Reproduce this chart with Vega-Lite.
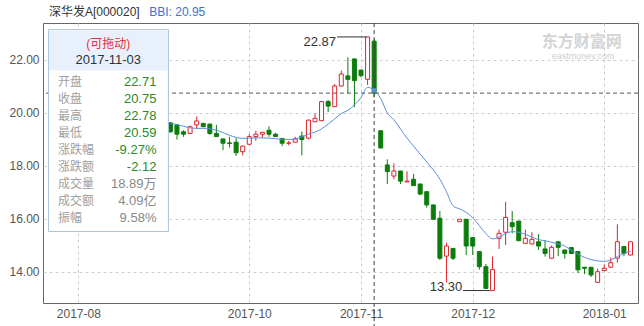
{
  "$schema": "https://vega.github.io/schema/vega-lite/v6.json",
  "width": 595,
  "height": 280,
  "autosize": {"type": "none"},
  "padding": {"left": 43, "top": 23, "right": 6, "bottom": 23},
  "background": "white",
  "config": {
    "view": {"stroke": "#666666", "strokeWidth": 1},
    "font": "Liberation Sans",
    "text": {"font": "Liberation Sans, Noto Sans CJK SC"}
  },
  "datasets": {
    "candles": [
      {"i": 0, "o": 19.63, "h": 19.65, "l": 19.25, "c": 19.29, "d": "down"},
      {"i": 1, "o": 19.55, "h": 19.58, "l": 19.0, "c": 19.2, "d": "down"},
      {"i": 2, "o": 19.29, "h": 19.35, "l": 19.1, "c": 19.2, "d": "down"},
      {"i": 3, "o": 19.23, "h": 19.52, "l": 19.22, "c": 19.48, "d": "up"},
      {"i": 4, "o": 19.55, "h": 19.87, "l": 19.4, "c": 19.7, "d": "up"},
      {"i": 5, "o": 19.61, "h": 19.62, "l": 19.47, "c": 19.48, "d": "down"},
      {"i": 6, "o": 19.58, "h": 19.6, "l": 19.17, "c": 19.23, "d": "down"},
      {"i": 7, "o": 19.23, "h": 19.55, "l": 19.1, "c": 19.11, "d": "down"},
      {"i": 8, "o": 19.02, "h": 19.03, "l": 18.6, "c": 18.86, "d": "down"},
      {"i": 9, "o": 18.87, "h": 19.1, "l": 18.7, "c": 18.85, "d": "down"},
      {"i": 10, "o": 18.9, "h": 19.05, "l": 18.38, "c": 18.5, "d": "down"},
      {"i": 11, "o": 18.54, "h": 18.76, "l": 18.4, "c": 18.75, "d": "up"},
      {"i": 12, "o": 18.82, "h": 19.2, "l": 18.81, "c": 19.11, "d": "up"},
      {"i": 13, "o": 19.11, "h": 19.33, "l": 18.95, "c": 19.2, "d": "up"},
      {"i": 14, "o": 19.2, "h": 19.28, "l": 19.05, "c": 19.27, "d": "up"},
      {"i": 15, "o": 19.35, "h": 19.5, "l": 19.1, "c": 19.2, "d": "down"},
      {"i": 16, "o": 19.2, "h": 19.25, "l": 19.1, "c": 19.11, "d": "down"},
      {"i": 17, "o": 19.04, "h": 19.05, "l": 18.75, "c": 18.86, "d": "down"},
      {"i": 18, "o": 18.86, "h": 18.95, "l": 18.78, "c": 18.87, "d": "up"},
      {"i": 19, "o": 18.9, "h": 19.1, "l": 18.89, "c": 19.02, "d": "up"},
      {"i": 20, "o": 19.13, "h": 19.3, "l": 18.4, "c": 19.0, "d": "down"},
      {"i": 21, "o": 19.05, "h": 19.75, "l": 19.0, "c": 19.73, "d": "up"},
      {"i": 22, "o": 19.67, "h": 19.98, "l": 19.66, "c": 19.8, "d": "up"},
      {"i": 23, "o": 19.71, "h": 20.45, "l": 19.7, "c": 20.43, "d": "up"},
      {"i": 24, "o": 20.43, "h": 20.49, "l": 20.04, "c": 20.26, "d": "down"},
      {"i": 25, "o": 20.24, "h": 21.09, "l": 20.23, "c": 21.02, "d": "up"},
      {"i": 26, "o": 21.02, "h": 21.6, "l": 21.0, "c": 21.47, "d": "up"},
      {"i": 27, "o": 21.4, "h": 22.1, "l": 20.74, "c": 21.27, "d": "down"},
      {"i": 28, "o": 22.04, "h": 22.05, "l": 20.22, "c": 21.22, "d": "down"},
      {"i": 29, "o": 21.62, "h": 21.63, "l": 21.35, "c": 21.41, "d": "down"},
      {"i": 30, "o": 21.27, "h": 22.87, "l": 21.06, "c": 22.87, "d": "up"},
      {"i": 31, "o": 22.71, "h": 22.78, "l": 20.59, "c": 20.75, "d": "down"},
      {"i": 32, "o": 19.33, "h": 19.33, "l": 18.68, "c": 18.68, "d": "down"},
      {"i": 33, "o": 18.04, "h": 18.25, "l": 17.32, "c": 17.79, "d": "down"},
      {"i": 34, "o": 17.62, "h": 18.1, "l": 17.5, "c": 17.81, "d": "up"},
      {"i": 35, "o": 17.81, "h": 17.82, "l": 17.32, "c": 17.43, "d": "down"},
      {"i": 36, "o": 17.4, "h": 17.8, "l": 17.39, "c": 17.43, "d": "up"},
      {"i": 37, "o": 17.5, "h": 17.7, "l": 17.25, "c": 17.26, "d": "down"},
      {"i": 38, "o": 17.32, "h": 17.33, "l": 16.9, "c": 16.94, "d": "down"},
      {"i": 39, "o": 17.03, "h": 17.04, "l": 16.43, "c": 16.53, "d": "down"},
      {"i": 40, "o": 16.53, "h": 16.54, "l": 15.98, "c": 15.99, "d": "down"},
      {"i": 41, "o": 16.03, "h": 16.3, "l": 14.45, "c": 14.52, "d": "down"},
      {"i": 42, "o": 14.6, "h": 15.1, "l": 13.61, "c": 14.98, "d": "up"},
      {"i": 43, "o": 14.89, "h": 14.9, "l": 14.45, "c": 14.52, "d": "down"},
      {"i": 44, "o": 15.9, "h": 16.0, "l": 15.89, "c": 15.99, "d": "up"},
      {"i": 45, "o": 15.99, "h": 16.0, "l": 14.64, "c": 14.98, "d": "down"},
      {"i": 46, "o": 15.3, "h": 15.31, "l": 14.64, "c": 14.98, "d": "down"},
      {"i": 47, "o": 14.77, "h": 14.78, "l": 14.09, "c": 14.2, "d": "down"},
      {"i": 48, "o": 14.2, "h": 14.3, "l": 13.37, "c": 13.38, "d": "down"},
      {"i": 49, "o": 13.3, "h": 14.58, "l": 13.3, "c": 14.09, "d": "up"},
      {"i": 50, "o": 15.27, "h": 15.6, "l": 14.87, "c": 15.46, "d": "up"},
      {"i": 51, "o": 15.5, "h": 16.65, "l": 15.02, "c": 16.06, "d": "up"},
      {"i": 52, "o": 15.86, "h": 16.3, "l": 15.46, "c": 15.71, "d": "down"},
      {"i": 53, "o": 15.92, "h": 15.93, "l": 15.17, "c": 15.18, "d": "down"},
      {"i": 54, "o": 15.08, "h": 15.6, "l": 15.07, "c": 15.27, "d": "up"},
      {"i": 55, "o": 15.06, "h": 15.5, "l": 15.05, "c": 15.23, "d": "up"},
      {"i": 56, "o": 15.14, "h": 15.43, "l": 14.83, "c": 14.98, "d": "down"},
      {"i": 57, "o": 14.87, "h": 15.2, "l": 14.58, "c": 14.7, "d": "down"},
      {"i": 58, "o": 14.52, "h": 15.0, "l": 14.51, "c": 14.93, "d": "up"},
      {"i": 59, "o": 15.14, "h": 15.15, "l": 14.6, "c": 14.93, "d": "down"},
      {"i": 60, "o": 14.83, "h": 14.84, "l": 14.5, "c": 14.7, "d": "down"},
      {"i": 61, "o": 14.92, "h": 14.93, "l": 14.69, "c": 14.7, "d": "down"},
      {"i": 62, "o": 14.77, "h": 14.78, "l": 13.96, "c": 14.08, "d": "down"},
      {"i": 63, "o": 14.18, "h": 14.19, "l": 13.92, "c": 14.14, "d": "down"},
      {"i": 64, "o": 14.18, "h": 14.19, "l": 13.81, "c": 13.89, "d": "down"},
      {"i": 65, "o": 13.61, "h": 14.13, "l": 13.58, "c": 14.01, "d": "up"},
      {"i": 66, "o": 14.05, "h": 14.28, "l": 14.04, "c": 14.14, "d": "up"},
      {"i": 67, "o": 14.18, "h": 14.55, "l": 14.17, "c": 14.35, "d": "up"},
      {"i": 68, "o": 14.52, "h": 15.8, "l": 14.35, "c": 15.14, "d": "up"},
      {"i": 69, "o": 14.96, "h": 14.97, "l": 14.6, "c": 14.7, "d": "down"},
      {"i": 70, "o": 14.64, "h": 15.15, "l": 14.63, "c": 15.14, "d": "up"}
    ],
    "bbi": [
      {"i": 0, "v": 19.62}, {"i": 1, "v": 19.56}, {"i": 2, "v": 19.5}, {"i": 3, "v": 19.44},
      {"i": 4, "v": 19.42}, {"i": 5, "v": 19.42}, {"i": 6, "v": 19.4}, {"i": 7, "v": 19.35},
      {"i": 8, "v": 19.26}, {"i": 9, "v": 19.16}, {"i": 10, "v": 19.08}, {"i": 11, "v": 19.04},
      {"i": 12, "v": 19.05}, {"i": 13, "v": 19.06}, {"i": 14, "v": 19.06}, {"i": 15, "v": 19.05},
      {"i": 16, "v": 19.03}, {"i": 17, "v": 19.01}, {"i": 18, "v": 19.0}, {"i": 19, "v": 19.02},
      {"i": 20, "v": 19.1}, {"i": 21, "v": 19.2}, {"i": 22, "v": 19.28}, {"i": 23, "v": 19.4},
      {"i": 24, "v": 19.58}, {"i": 25, "v": 19.78}, {"i": 26, "v": 19.98}, {"i": 27, "v": 20.1},
      {"i": 28, "v": 20.3}, {"i": 29, "v": 20.58}, {"i": 30, "v": 20.97}, {"i": 31, "v": 20.85},
      {"i": 32, "v": 20.55}, {"i": 33, "v": 20.0}, {"i": 34, "v": 19.75}, {"i": 35, "v": 19.4},
      {"i": 36, "v": 19.05}, {"i": 37, "v": 18.75}, {"i": 38, "v": 18.45}, {"i": 39, "v": 18.15},
      {"i": 40, "v": 17.85}, {"i": 41, "v": 17.5}, {"i": 42, "v": 17.03}, {"i": 43, "v": 16.5},
      {"i": 44, "v": 16.38}, {"i": 45, "v": 16.25}, {"i": 46, "v": 16.05}, {"i": 47, "v": 15.75},
      {"i": 48, "v": 15.45}, {"i": 49, "v": 15.25}, {"i": 50, "v": 15.32}, {"i": 51, "v": 15.45},
      {"i": 52, "v": 15.52}, {"i": 53, "v": 15.5}, {"i": 54, "v": 15.42}, {"i": 55, "v": 15.32},
      {"i": 56, "v": 15.22}, {"i": 57, "v": 15.18}, {"i": 58, "v": 15.12}, {"i": 59, "v": 15.06},
      {"i": 60, "v": 14.98}, {"i": 61, "v": 14.82}, {"i": 62, "v": 14.68}, {"i": 63, "v": 14.55},
      {"i": 64, "v": 14.47}, {"i": 65, "v": 14.42}, {"i": 66, "v": 14.4}, {"i": 67, "v": 14.45},
      {"i": 68, "v": 14.58}, {"i": 69, "v": 14.7}, {"i": 70, "v": 14.78}
    ],
    "info": [
      {"row": 0, "label": "开盘", "value": "22.71", "kind": "g"},
      {"row": 1, "label": "收盘", "value": "20.75", "kind": "g"},
      {"row": 2, "label": "最高", "value": "22.78", "kind": "g"},
      {"row": 3, "label": "最低", "value": "20.59", "kind": "g"},
      {"row": 4, "label": "涨跌幅", "value": "-9.27%", "kind": "g"},
      {"row": 5, "label": "涨跌额", "value": "-2.12", "kind": "g"},
      {"row": 6, "label": "成交量", "value": "18.89万", "kind": "n"},
      {"row": 7, "label": "成交额", "value": "4.09亿", "kind": "n"},
      {"row": 8, "label": "振幅", "value": "9.58%", "kind": "n"}
    ]
  },
  "layer": [
    {
      "layer": [
        {
          "data": {"name": "candles"},
          "mark": {"type": "rule", "strokeWidth": 1},
          "encoding": {
            "x": {
              "field": "i", "type": "quantitative", "title": null,
              "scale": {"domain": [-18.62, 70.38], "nice": false, "zero": false},
              "axis": {
                "values": [-14, 12, 29, 46, 66],
                "labelExpr": "datum.value == -14 ? '2017-08' : datum.value == 12 ? '2017-10' : datum.value == 29 ? '2017-11' : datum.value == 46 ? '2017-12' : '2018-01'",
                "grid": true, "gridColor": "#cccccc", "gridDash": [3, 3], "gridWidth": 1,
                "ticks": false, "domain": false, "labelPadding": 5,
                "labelColor": "#555555", "labelFontSize": 12, "labelFont": "Liberation Sans",
                "labelFlush": false, "labelOverlap": false
              }
            },
            "y": {
              "field": "l", "type": "quantitative", "title": null,
              "scale": {"domain": [12.83, 23.396], "nice": false, "zero": false},
              "axis": {
                "values": [14, 16, 18, 20, 22], "format": ".2f",
                "grid": true, "gridColor": "#cccccc", "gridDash": [3, 3], "gridWidth": 1,
                "ticks": false, "domain": false, "labelPadding": 4,
                "labelColor": "#555555", "labelFontSize": 12, "labelFont": "Liberation Sans"
              }
            },
            "y2": {"field": "h"},
            "stroke": {
              "field": "d", "type": "nominal", "legend": null,
              "scale": {"domain": ["up", "down"], "range": ["#e0232e", "#0c7d0c"]}
            }
          }
        },
        {
          "data": {"name": "candles"},
          "mark": {"type": "bar", "size": 4, "strokeWidth": 1},
          "encoding": {
            "x": {"field": "i", "type": "quantitative", "title": null},
            "y": {"field": "o", "type": "quantitative", "title": null},
            "y2": {"field": "c"},
            "stroke": {"field": "d", "type": "nominal", "legend": null},
            "fill": {
              "field": "d", "type": "nominal", "legend": null,
              "scale": {"domain": ["up", "down"], "range": ["#ffffff", "#0c7d0c"]}
            }
          }
        },
        {
          "data": {"name": "bbi"},
          "mark": {"type": "line", "color": "#5b8fe0", "strokeWidth": 1, "interpolate": "monotone"},
          "encoding": {
            "x": {"field": "i", "type": "quantitative", "title": null},
            "y": {"field": "v", "type": "quantitative", "title": null}
          }
        },
        {
          "data": {"values": [{}]},
          "mark": {"type": "rule", "color": "#555555", "strokeWidth": 1, "strokeDash": [4, 3]},
          "encoding": {
            "y": {"datum": 20.75, "type": "quantitative", "title": null}
          }
        },
        {
          "data": {"values": [{}]},
          "mark": {"type": "rule", "color": "#444444", "strokeWidth": 1, "strokeDash": [4, 3], "clip": false},
          "encoding": {
            "x": {"datum": 31, "type": "quantitative", "title": null},
            "y": {"datum": 23.396, "type": "quantitative", "title": null},
            "y2": {"datum": 11.95}
          }
        },
        {
          "data": {"values": [{}]},
          "mark": {"type": "point", "filled": true, "size": 22, "color": "#5b8fe0", "opacity": 1},
          "encoding": {
            "x": {"datum": 31, "type": "quantitative", "title": null},
            "y": {"datum": 20.85, "type": "quantitative", "title": null}
          }
        },
        {
          "data": {"values": [{}]},
          "mark": {"type": "rule", "color": "#333333", "strokeWidth": 1},
          "encoding": {
            "x": {"datum": 25.36, "type": "quantitative", "title": null},
            "x2": {"datum": 29.85},
            "y": {"datum": 22.87, "type": "quantitative", "title": null}
          }
        },
        {
          "data": {"values": [{}]},
          "mark": {"type": "text", "text": "22.87", "align": "right", "baseline": "top", "fontSize": 13, "color": "#333333", "dx": -1, "dy": -1},
          "encoding": {
            "x": {"datum": 25.36, "type": "quantitative", "title": null},
            "y": {"datum": 22.87, "type": "quantitative", "title": null}
          }
        },
        {
          "data": {"values": [{}]},
          "mark": {"type": "rule", "color": "#333333", "strokeWidth": 1},
          "encoding": {
            "x": {"datum": 44.5, "type": "quantitative", "title": null},
            "x2": {"datum": 48.6},
            "y": {"datum": 13.3, "type": "quantitative", "title": null}
          }
        },
        {
          "data": {"values": [{}]},
          "mark": {"type": "text", "text": "13.30", "align": "right", "baseline": "alphabetic", "fontSize": 13, "color": "#333333", "dx": 0},
          "encoding": {
            "x": {"datum": 44.4, "type": "quantitative", "title": null},
            "y": {"datum": 13.3, "type": "quantitative", "title": null}
          }
        },
        {
          "data": {"values": [{}]},
          "mark": {"type": "text", "text": "深华发A[000020]", "align": "left", "baseline": "middle", "fontSize": 12, "color": "#333333"},
          "encoding": {
            "x": {"datum": -18.48, "type": "quantitative", "title": null},
            "y": {"datum": 23.81, "type": "quantitative", "title": null}
          }
        },
        {
          "data": {"values": [{}]},
          "mark": {"type": "text", "text": "BBI: 20.95", "align": "left", "baseline": "middle", "fontSize": 12, "color": "#3d6fd6"},
          "encoding": {
            "x": {"datum": -3.22, "type": "quantitative", "title": null},
            "y": {"datum": 23.81, "type": "quantitative", "title": null}
          }
        },
        {
          "data": {"values": [{}]},
          "mark": {"type": "text", "text": "东方财富网", "align": "center", "baseline": "middle", "fontSize": 16, "fontWeight": "bold", "color": "#d4d4d4"},
          "encoding": {
            "x": {"datum": 62.6, "type": "quantitative", "title": null},
            "y": {"datum": 22.68, "type": "quantitative", "title": null}
          }
        },
        {
          "data": {"values": [{}]},
          "mark": {"type": "text", "text": "eastmoney.com", "align": "center", "baseline": "middle", "fontSize": 9, "color": "#d0d0d0"},
          "encoding": {
            "x": {"datum": 62.8, "type": "quantitative", "title": null},
            "y": {"datum": 22.14, "type": "quantitative", "title": null}
          }
        }
      ]
    },
    {
      "layer": [
        {
          "data": {"values": [{}]},
          "mark": {"type": "rect", "fill": "#ffffff", "stroke": "#a9c2dc", "strokeWidth": 1},
          "encoding": {
            "x": {"datum": -18.55, "type": "quantitative"},
            "x2": {"datum": -0.3},
            "y": {"datum": -3.08, "type": "quantitative", "axis": null, "scale": {"domain": [-3.47, 13.0], "reverse": true, "nice": false, "zero": false}},
            "y2": {"datum": 8.79}
          }
        },
        {
          "data": {"values": [{}]},
          "mark": {"type": "rect", "fill": "#e8f1fb"},
          "encoding": {
            "x": {"datum": -18.48, "type": "quantitative"},
            "x2": {"datum": -0.37},
            "y": {"datum": -3.03, "type": "quantitative", "axis": null},
            "y2": {"datum": -0.68}
          }
        },
        {
          "data": {"values": [{}]},
          "mark": {"type": "text", "text": "(可拖动)", "align": "center", "baseline": "middle", "fontSize": 12, "color": "#e0323c"},
          "encoding": {
            "x": {"datum": -9.45, "type": "quantitative"},
            "y": {"datum": -2.25, "type": "quantitative", "axis": null}
          }
        },
        {
          "data": {"values": [{}]},
          "mark": {"type": "text", "text": "2017-11-03", "align": "center", "baseline": "middle", "fontSize": 13, "color": "#333333"},
          "encoding": {
            "x": {"datum": -9.45, "type": "quantitative"},
            "y": {"datum": -1.31, "type": "quantitative", "axis": null}
          }
        },
        {
          "data": {"name": "info"},
          "mark": {"type": "text", "align": "left", "baseline": "middle", "fontSize": 12, "color": "#a0a0a0"},
          "encoding": {
            "x": {"datum": -17.08, "type": "quantitative"},
            "y": {"field": "row", "type": "quantitative", "axis": null},
            "text": {"field": "label"}
          }
        },
        {
          "data": {"name": "info"},
          "transform": [{"filter": {"field": "kind", "equal": "g"}}],
          "mark": {"type": "text", "align": "right", "baseline": "middle", "fontSize": 13, "color": "#2a8a2a"},
          "encoding": {
            "x": {"datum": -2.12, "type": "quantitative"},
            "y": {"field": "row", "type": "quantitative", "axis": null},
            "text": {"field": "value"}
          }
        },
        {
          "data": {"name": "info"},
          "transform": [{"filter": {"field": "kind", "equal": "n"}}],
          "mark": {"type": "text", "align": "right", "baseline": "middle", "fontSize": 13, "color": "#888888"},
          "encoding": {
            "x": {"datum": -2.12, "type": "quantitative"},
            "y": {"field": "row", "type": "quantitative", "axis": null},
            "text": {"field": "value"}
          }
        }
      ]
    }
  ],
  "resolve": {"scale": {"y": "independent"}}
}
